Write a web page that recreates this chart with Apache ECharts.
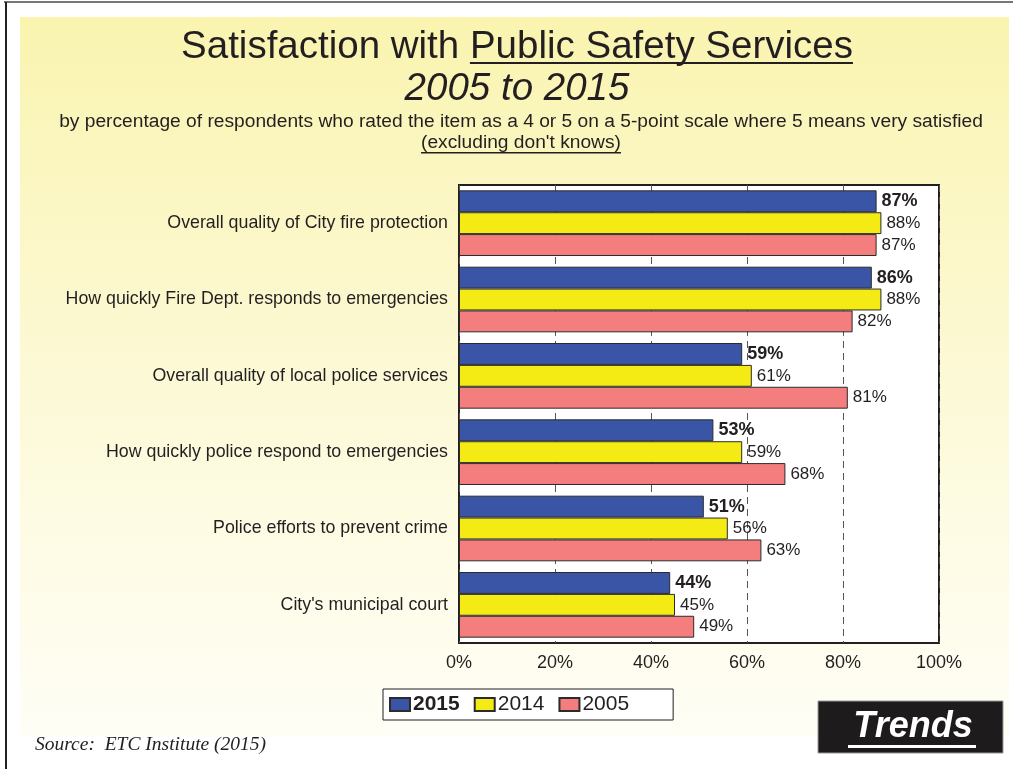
<!DOCTYPE html>
<html>
<head>
<meta charset="utf-8">
<script src="https://cdn.jsdelivr.net/npm/echarts@6/dist/echarts.min.js"></script>
<style>
  html, body { margin: 0; padding: 0; background: #fff; }
  #chart { width: 1013px; height: 769px; }
</style>
</head>
<body>
<div id="chart"></div>
<script>
// Survey items, top to bottom
const categories = [
  'Overall quality of City fire protection',
  'How quickly Fire Dept. responds to emergencies',
  'Overall quality of local police services',
  'How quickly police respond to emergencies',
  'Police efforts to prevent crime',
  "City's municipal court"
];
const years = ['2015', '2014', '2005'];
const values2015 = [87, 86, 59, 53, 51, 44];
const values2014 = [88, 88, 61, 59, 56, 45];
const values2005 = [87, 82, 81, 68, 63, 49];
const xTicks = [0, 20, 40, 60, 80, 100];

const INK = '#231F20';
const titleMain = 'Satisfaction with Public Safety Services';
const titlePrefix = 'Satisfaction with ';
const titleYears = '2005 to 2015';
const subtitle = 'by percentage of respondents who rated the item as a 4 or 5 on a 5-point scale where 5 means very satisfied';
const subnote = "(excluding don't knows)";
const sourceNote = 'Source:  ETC Institute (2015)';
const badge = 'Trends';

const SANS = "'Liberation Sans', Arial, sans-serif";
const SERIF = "'Liberation Serif', 'Times New Roman', serif";

// text width helper for the underlines
const ctx = document.createElement('canvas').getContext('2d');
function textWidth(str, font) { ctx.font = font; return ctx.measureText(str).width; }

const centerX = 517;
const titleFont = '38.5px ' + SANS;
const wMain = textWidth(titleMain, titleFont);
const wPrefix = textWidth(titlePrefix, titleFont);
const ulStart = centerX - wMain / 2 + wPrefix;
const ulEnd = centerX + wMain / 2;

const noteFont = '19.2px ' + SANS;
const wNote = textWidth(subnote, noteFont);
const noteCx = 521;

const badgeFont = 'italic bold 36px ' + SANS;
const wBadge = textWidth(badge, badgeFont);
const badgeCx = 913;

const colors = { '2015': '#3A55A5', '2014': '#F5EB14', '2005': '#F47E7E' };
const seriesData = { '2015': values2015, '2014': values2014, '2005': values2005 };

const chart = echarts.init(document.getElementById('chart'), null, { renderer: 'canvas' });

const series = years.map(y => ({
  name: y,
  type: 'bar',
  data: seriesData[y],
  barGap: '0%',
  barCategoryGap: '14%',
  itemStyle: { color: colors[y], borderColor: '#2b2b2b', borderWidth: 1 },
  label: {
    show: true,
    position: 'right',
    distance: 5,
    formatter: '{c}%',
    color: INK,
    fontFamily: SANS,
    fontSize: y === '2015' ? 18 : 17,
    fontWeight: y === '2015' ? 'bold' : 'normal'
  },
  emphasis: { disabled: true }
}));

chart.setOption({
  animation: false,
  backgroundColor: '#ffffff',
  textStyle: { fontFamily: SANS, color: INK },
  grid: {
    left: 459, top: 185, width: 480, height: 458,
    show: true, backgroundColor: '#ffffff',
    borderColor: INK, borderWidth: 2
  },
  xAxis: {
    type: 'value',
    min: xTicks[0], max: xTicks[xTicks.length - 1], interval: xTicks[1] - xTicks[0],
    axisLine: { show: false },
    axisTick: { show: false },
    axisLabel: { formatter: '{value}%', fontSize: 18, color: INK, margin: 11, fontFamily: SANS },
    splitLine: { show: true, lineStyle: { color: '#555', width: 1, type: [7, 5] } }
  },
  yAxis: {
    type: 'category',
    data: categories,
    inverse: true,
    axisLine: { show: false },
    axisTick: { show: false },
    axisLabel: { fontSize: 17.8, color: INK, margin: 11, fontFamily: SANS },
    splitLine: { show: false }
  },
  legend: {
    data: years,
    left: 383, top: 689,
    orient: 'horizontal',
    icon: 'rect',
    itemWidth: 20, itemHeight: 13, itemGap: 14,
    padding: [5, 44, 5, 6],
    backgroundColor: '#ffffff',
    borderColor: INK, borderWidth: 1,
    selectedMode: false,
    textStyle: {
      fontSize: 21, color: INK, fontFamily: SANS, padding: [0, 0, 0, -2],
      rich: { b: { fontSize: 21, fontWeight: 'bold', color: INK, fontFamily: SANS } }
    },
    formatter: name => name === '2015' ? '{b|' + name + '}' : name
  },
  graphic: [
    // outer frame lines
    { type: 'rect', z: -20, silent: true, shape: { x: 4, y: 1, width: 1009, height: 2 }, style: { fill: '#777' } },
    { type: 'rect', z: -20, silent: true, shape: { x: 5, y: 2, width: 2, height: 767 }, style: { fill: '#222' } },
    // shaded panel
    {
      type: 'rect', z: -30, silent: true,
      shape: { x: 20, y: 17, width: 989, height: 720 },
      style: {
        fill: new echarts.graphic.LinearGradient(0, 0, 0, 1, [
          { offset: 0, color: '#FAF4B0' },
          { offset: 0.5, color: '#FCF9D6' },
          { offset: 1, color: '#FFFEF6' }
        ])
      }
    },
    // titles
    { type: 'text', silent: true, x: centerX, y: 47,
      style: { text: titleMain, font: titleFont, fill: INK, align: 'center', verticalAlign: 'middle' } },
    { type: 'rect', silent: true, shape: { x: ulStart, y: 62, width: ulEnd - ulStart, height: 2 }, style: { fill: INK } },
    { type: 'text', silent: true, x: centerX, y: 89,
      style: { text: titleYears, font: 'italic ' + titleFont, fill: INK, align: 'center', verticalAlign: 'middle' } },
    { type: 'text', silent: true, x: 521, y: 122,
      style: { text: subtitle, font: noteFont, fill: INK, align: 'center', verticalAlign: 'middle' } },
    { type: 'text', silent: true, x: noteCx, y: 143,
      style: { text: subnote, font: noteFont, fill: INK, align: 'center', verticalAlign: 'middle' } },
    { type: 'rect', silent: true, shape: { x: noteCx - wNote / 2, y: 152, width: wNote, height: 1.5 }, style: { fill: INK } },
    // source note
    { type: 'text', silent: true, x: 35, y: 745,
      style: { text: sourceNote, font: 'italic 19.5px ' + SERIF, fill: INK, align: 'left', verticalAlign: 'middle' } },
    // badge
    { type: 'rect', silent: true, shape: { x: 818, y: 701, width: 185, height: 52 }, style: { fill: '#1E1B1C', stroke: '#999', lineWidth: 1 } },
    { type: 'text', silent: true, x: badgeCx, y: 727,
      style: { text: badge, font: badgeFont, fill: '#ffffff', align: 'center', verticalAlign: 'middle' } },
    { type: 'rect', silent: true, shape: { x: 848, y: 745, width: 128, height: 3 }, style: { fill: '#ffffff' } }
  ],
  series: series
});
</script>
</body>
</html>
